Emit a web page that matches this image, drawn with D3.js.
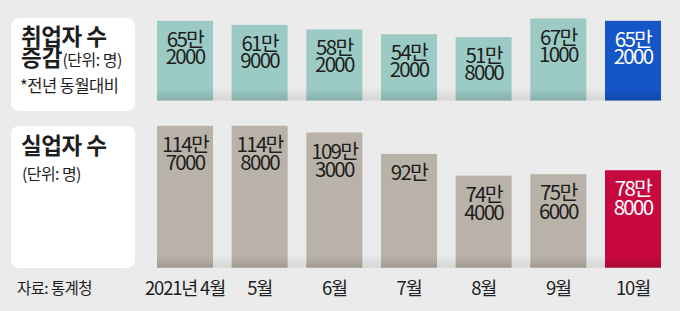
<!DOCTYPE html>
<html>
<head>
<meta charset="utf-8">
<script src="https://cdn.jsdelivr.net/npm/d3@7"></script>
<style>
  body { margin: 0; background: #ebebeb; }
  svg { display: block; font-family: "Noto Sans CJK KR", "Noto Sans", sans-serif; }
  .val { font-size: 20.5px; letter-spacing: -1.7px; text-anchor: middle; fill: #1e1e1e; }
  .xaxis text { font-size: 18.5px; letter-spacing: -1.2px; fill: #1e1e1e; font-family: "Noto Sans CJK KR", sans-serif; }
</style>
</head>
<body>
<div class="chart"></div>
<script>

// data (단위: 만 명)
var months = ["2021년 4월", "5월", "6월", "7월", "8월", "9월", "10월"];
var employed = [65.2, 61.9, 58.2, 54.2, 51.8, 67.1, 65.2];
var employedLabels = [["65만", "2000"], ["61만", "9000"], ["58만", "2000"], ["54만", "2000"],
                      ["51만", "8000"], ["67만", "1000"], ["65만", "2000"]];
var unemployed = [114.7, 114.8, 109.3, 92.0, 74.4, 75.6, 78.8];
var unemployedLabels = [["114만", "7000"], ["114만", "8000"], ["109만", "3000"], ["92만"],
                        ["74만", "4000"], ["75만", "6000"], ["78만", "8000"]];

var svgWidth = 680, svgHeight = 311;

var svg = d3.select(".chart").append("svg")
  .attr("width", svgWidth)
  .attr("height", svgHeight);

var defs = svg.append("defs");
var g1 = defs.append("linearGradient").attr("id", "floor").attr("x1", 0).attr("y1", 0).attr("x2", 0).attr("y2", 1);
g1.append("stop").attr("offset", "0%").attr("stop-color", "#000").attr("stop-opacity", 0);
g1.append("stop").attr("offset", "100%").attr("stop-color", "#000").attr("stop-opacity", 0.09);
var g2 = defs.append("linearGradient").attr("id", "barShade").attr("x1", 0).attr("y1", 0).attr("x2", 0).attr("y2", 1);
g2.append("stop").attr("offset", "0%").attr("stop-color", "#000").attr("stop-opacity", 0);
g2.append("stop").attr("offset", "100%").attr("stop-color", "#000").attr("stop-opacity", 0.14);

// x scale shared by both rows
var x = d3.scaleBand()
  .domain(months)
  .range([157, 661])
  .paddingInner(0.25)
  .paddingOuter(0);

// y scales
var yTop = d3.scaleLinear().domain([0, 67.1]).range([100.5, 18.5]);
var yBot = d3.scaleLinear().domain([0, 114.8]).range([267.7, 125.7]);

// left white panels
svg.append("rect").attr("x", 11).attr("y", 18).attr("width", 124).attr("height", 93)
  .attr("rx", 8).attr("fill", "#fff");
svg.append("rect").attr("x", 11).attr("y", 126).attr("width", 124).attr("height", 142)
  .attr("rx", 8).attr("fill", "#fff");

function drawRow(values, labels, y, baseColor, lastColor, lineGap) {
  var row = svg.append("g");
  var y0 = y(0);

  row.append("rect")
    .attr("x", x.range()[0])
    .attr("y", y0 - 14)
    .attr("width", x.range()[1] - x.range()[0])
    .attr("height", 14)
    .attr("fill", "url(#floor)");

  row.selectAll("rect.bar")
    .data(values)
    .enter()
    .append("rect")
    .attr("class", "bar")
    .attr("x", (d, i) => x(months[i]))
    .attr("y", d => y(d))
    .attr("width", x.bandwidth())
    .attr("height", d => y0 - y(d))
    .attr("fill", (d, i) => i == values.length - 1 ? lastColor : baseColor);

  row.selectAll("rect.shade")
    .data(values)
    .enter()
    .append("rect")
    .attr("class", "shade")
    .attr("x", (d, i) => x(months[i]))
    .attr("y", y0 - 12)
    .attr("width", x.bandwidth())
    .attr("height", 12)
    .attr("fill", "url(#barShade)");

  var txt = row.selectAll("text.val")
    .data(values)
    .enter()
    .append("text")
    .attr("class", "val")
    .attr("x", (d, i) => x(months[i]) + x.bandwidth() / 2)
    .attr("y", d => y(d) + 26)
    .style("fill", (d, i) => i == values.length - 1 ? "#fff" : "#1e1e1e");

  txt.selectAll("tspan")
    .data((d, i) => labels[i])
    .enter()
    .append("tspan")
    .attr("x", function() { return this.parentNode.getAttribute("x"); })
    .attr("dy", (d, j) => j == 0 ? 0 : lineGap)
    .text(d => d);
}

drawRow(employed, employedLabels, yTop, "#9ccbc5", "#1455c8", 17);
drawRow(unemployed, unemployedLabels, yBot, "#b9b2a8", "#c8093f", 18.5);

// x axis labels
var xAxis = d3.axisBottom(x).tickSize(0).tickPadding(0);
svg.append("g")
  .attr("class", "xaxis")
  .attr("transform", "translate(0, 279)")
  .call(xAxis)
  .call(g => g.select(".domain").remove())
  .selectAll("text")
  .attr("dy", "0.85em");

// panel titles
var t = svg.append("g").attr("fill", "#1e1e1e");
t.append("text").attr("x", 21).attr("y", 45)
  .style("font-size", "22.5px").style("font-weight", "bold").style("letter-spacing", "-0.5px")
  .text("취업자 수");
var t2 = t.append("text").attr("x", 21).attr("y", 66);
t2.append("tspan").style("font-size", "22.5px").style("font-weight", "bold").text("증감");
t2.append("tspan").style("font-size", "16px").style("letter-spacing", "-0.5px").text("(단위: 명)");
t.append("text").attr("x", 20).attr("y", 92)
  .style("font-size", "16.5px").style("letter-spacing", "-0.5px")
  .text("*전년 동월대비");

t.append("text").attr("x", 21).attr("y", 154)
  .style("font-size", "22.5px").style("font-weight", "bold").style("letter-spacing", "-0.5px")
  .text("실업자 수");
t.append("text").attr("x", 22).attr("y", 180)
  .style("font-size", "16px").style("letter-spacing", "-0.6px")
  .text("(단위: 명)");

t.append("text").attr("x", 17).attr("y", 294)
  .style("font-size", "15.5px").style("letter-spacing", "-0.6px")
  .text("자료: 통계청");

</script>
</body>
</html>
